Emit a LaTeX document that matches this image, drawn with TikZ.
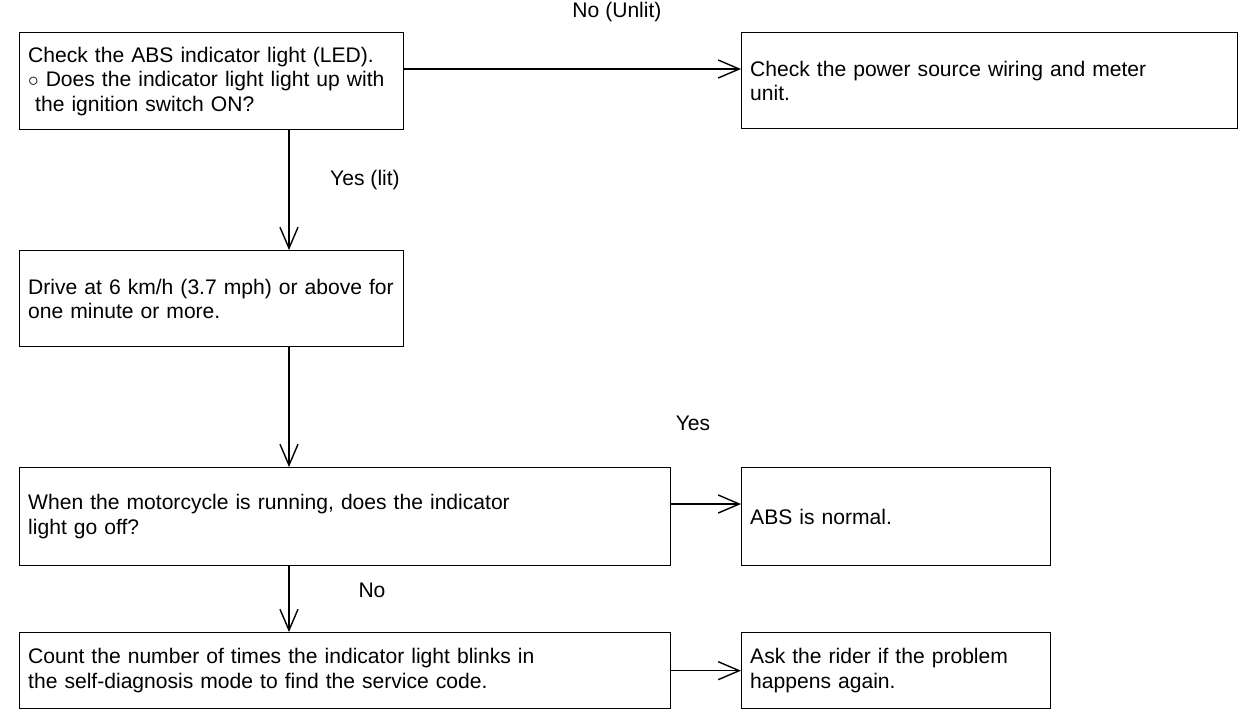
\documentclass[tikz,border=0pt]{standalone}
\usepackage{fontspec}
\setmainfont{Liberation Sans}
\usetikzlibrary{arrows.meta}

\begin{document}
\begin{tikzpicture}[x=0.02cm,y=-0.02cm]

\tikzset{Box/.style={draw,thick,rectangle,anchor=north west,align=left,inner sep=0.16cm,font=\fontsize{12}{13.9}\selectfont},
  Flow/.style={thick,-{Straight Barb[length=4.2mm,width=3.6mm]}},
  Lbl/.style={font=\fontsize{12}{14}\selectfont}}

  \useasboundingbox (0,0) rectangle (1259,724);

  \node[Box,minimum width=7.68cm,minimum height=1.94cm,text width=7.34cm] (check) at (19,32)
    {Check the ABS indicator light (LED).\\ $\circ$ Does the indicator light light up with\\ \ the ignition switch ON?};
  \node[Box,minimum width=9.92cm,minimum height=1.92cm,text width=9.58cm] (power) at (741,32)
    {Check the power source wiring and meter\\ unit.\\[1em]};
  \node[Box,minimum width=7.68cm,minimum height=1.92cm,text width=7.34cm] (drive) at (19,250)
    {Drive at 6 km/h (3.7 mph) or above for\\ one minute or more.};
  \node[Box,minimum width=13.02cm,minimum height=1.96cm,text width=12.68cm] (run) at (19,467)
    {When the motorcycle is running, does the indicator\\ light go off?\\[0.5em]};
  \node[Box,minimum width=6.18cm,minimum height=1.96cm,text width=5.84cm] (normal) at (741,467)
    {ABS is normal.\\[1em]};
  \node[Box,minimum width=13.02cm,minimum height=1.52cm,text width=12.68cm] (count) at (19,632)
    {Count the number of times the indicator light blinks in\\ the self-diagnosis mode to find the service code.};
  \node[Box,minimum width=6.18cm,minimum height=1.52cm,text width=5.84cm] (ask) at (741,632)
    {Ask the rider if the problem\\ happens again.};

  \draw[Flow] (check.east |- 0,69) -- (power.west |- 0,69);
  \draw[Flow] (check.south -| 289,0) -- (drive.north -| 289,0);
  \draw[Flow] (drive.south -| 289,0) -- (run.north -| 289,0);
  \draw[Flow] (run.east |- 0,504) -- (normal.west |- 0,504);
  \draw[Flow] (run.south -| 289,0) -- (count.north -| 289,0);
  \draw[Flow] (count.east) -- (ask.west);

  \node[Lbl] (l1) at (617,12) {No (Unlit)};
  \node[Lbl] (l2) at (365,180) {Yes (lit)};
  \node[Lbl] (l3) at (693,423) {Yes};
  \node[Lbl] (l4) at (372,590) {No};

\end{tikzpicture}
\end{document}
